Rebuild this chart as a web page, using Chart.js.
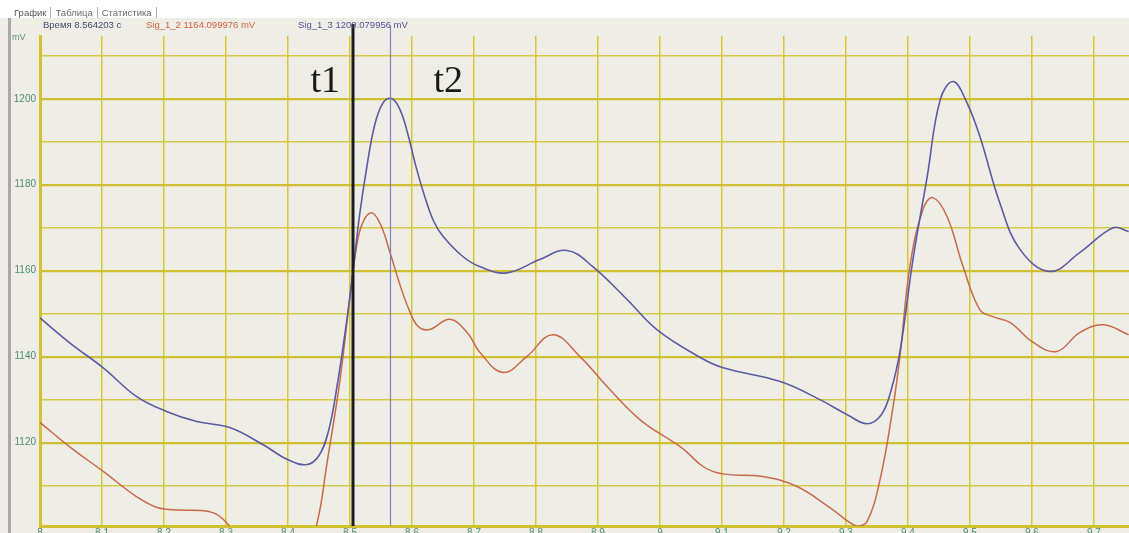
<!DOCTYPE html>
<html>
<head>
<meta charset="utf-8">
<script src="https://cdn.jsdelivr.net/npm/chart.js@4.4.1/dist/chart.umd.min.js"></script>
<style>
  html, body { margin:0; padding:0; width:1129px; height:533px; overflow:hidden; background:#ffffff; font-family:"Liberation Sans", Arial, sans-serif; }
  #panel { position:absolute; left:0; top:18px; width:1129px; height:515px; background:#efeee6; }
  #leftbar { position:absolute; left:8px; top:18px; width:3px; height:515px; background:#a9a9a9; }
  #tabs { position:absolute; left:10px; top:7px; height:11px; font-size:9.5px; color:#6a6a6a; white-space:nowrap; }
  #tabs span { display:inline-block; padding:0 4px; border-right:1px solid #b0b0b0; line-height:11px; }
  #tabs span.cur { color:#555; }
  #hdr { position:absolute; top:19px; left:0; font-size:9.5px; white-space:nowrap; }
  #hdr span { position:absolute; top:0; }
  #mv { position:absolute; left:12px; top:32px; font-size:9px; color:#5b8c72; }
  #wrap { position:absolute; left:0; top:0; width:1129px; height:546px; }
  .ov { z-index:3; }
</style>
</head>
<body>
<div id="panel"></div>
<div id="leftbar"></div>
<div id="tabs" class="ov"><span class="cur">График</span><span>Таблица</span><span>Статистика</span></div>
<div id="hdr" class="ov">
  <span style="left:43px;color:#3e4a6e;">Время 8.564203 с</span>
  <span style="left:146px;color:#d0603e;">Sig_1_2 1164.099976 mV</span>
  <span style="left:298px;color:#50509e;">Sig_1_3 1200.079956 mV</span>
</div>
<div id="mv" class="ov">mV</div>
<div id="wrap"><canvas id="c" width="1129" height="546"></canvas></div>
<script>
// ---- data (time in s, values in mV) ----
const blueTime = [8.000,8.050,8.102,8.156,8.205,8.253,8.306,8.360,8.400,8.431,8.450,8.465,8.479,8.495,8.505,8.516,8.527,8.540,8.553,8.566,8.579,8.592,8.605,8.620,8.635,8.650,8.682,8.710,8.753,8.806,8.850,8.892,8.947,8.995,9.065,9.102,9.194,9.258,9.302,9.334,9.357,9.373,9.388,9.408,9.431,9.452,9.473,9.495,9.516,9.548,9.581,9.629,9.677,9.731,9.756];
const blueMv   = [1149.0,1143.0,1137.4,1130.7,1127.2,1124.9,1123.5,1119.5,1116.0,1114.9,1117.0,1122.5,1133.0,1148.6,1160.2,1173.5,1184.0,1194.0,1199.0,1200.1,1198.0,1192.5,1185.0,1177.5,1171.5,1168.0,1163.3,1160.9,1159.5,1162.6,1164.7,1160.9,1153.3,1146.3,1139.8,1137.4,1134.2,1130.0,1126.5,1124.4,1126.5,1132.3,1142.0,1162.6,1181.9,1199.8,1204.0,1199.1,1191.2,1175.8,1164.9,1159.8,1164.2,1170.0,1169.1];

const redTime = [8.000,8.048,8.102,8.156,8.189,8.225,8.260,8.285,8.306,8.339,8.387,8.427,8.447,8.463,8.484,8.500,8.510,8.520,8.535,8.550,8.565,8.580,8.595,8.610,8.628,8.661,8.689,8.710,8.747,8.785,8.827,8.871,8.915,8.968,9.032,9.085,9.166,9.221,9.274,9.318,9.334,9.355,9.376,9.387,9.403,9.424,9.440,9.463,9.489,9.516,9.537,9.565,9.602,9.640,9.677,9.715,9.756];
const redMv   = [1124.7,1119.0,1113.3,1107.4,1104.9,1104.3,1104.2,1103.3,1100.5,1094.0,1090.0,1094.0,1101.4,1115.3,1134.7,1154.0,1165.0,1171.0,1173.5,1170.5,1164.0,1157.0,1151.0,1147.0,1146.3,1148.7,1145.6,1140.9,1136.3,1140.0,1145.1,1140.0,1133.0,1125.3,1119.1,1113.3,1112.1,1109.8,1104.9,1100.5,1101.6,1111.4,1128.4,1140.0,1160.9,1174.2,1177.0,1172.6,1160.9,1150.9,1149.3,1147.9,1143.3,1141.2,1145.6,1147.4,1145.1];

const xTickValues = [8.0,8.1,8.2,8.3,8.4,8.5,8.6,8.7,8.8,8.9,9.0,9.1,9.2,9.3,9.4,9.5,9.6,9.7];
const xTickLabels = ["8","8.1","8.2","8.3","8.4","8.5","8.6","8.7","8.8","8.9","9","9.1","9.2","9.3","9.4","9.5","9.6","9.7"];
const yGridValues = [1110,1120,1130,1140,1150,1160,1170,1180,1190,1200,1210];
const yTickLabels = ["1120","1140","1160","1180","1200"];

const markerTimes  = [8.505, 8.564];
const markerLabels = ["t1", "t2"];

const toPts = (t, v) => t.map((x, i) => ({ x: x, y: v[i] }));

const markerPlugin = {
  id: 'markers',
  afterDatasetsDraw(chart) {
    const { ctx, chartArea, scales } = chart;
    const x1 = Math.round(scales.x.getPixelForValue(markerTimes[0]));
    const x2 = Math.round(scales.x.getPixelForValue(markerTimes[1])) + 0.5;
    ctx.save();
    ctx.strokeStyle = '#8080c4';
    ctx.lineWidth = 1.2;
    ctx.beginPath(); ctx.moveTo(x2, chartArea.top - 10); ctx.lineTo(x2, chartArea.bottom); ctx.stroke();
    ctx.strokeStyle = '#1c1c1c';
    ctx.lineWidth = 3;
    ctx.beginPath(); ctx.moveTo(x1, chartArea.top - 12); ctx.lineTo(x1, chartArea.bottom); ctx.stroke();
    ctx.fillStyle = '#1a1a1a';
    ctx.font = '38px "Liberation Serif", "DejaVu Serif", serif';
    ctx.textBaseline = 'alphabetic';
    ctx.textAlign = 'right';
    ctx.fillText(markerLabels[0], x1 - 13, 92);
    ctx.textAlign = 'left';
    ctx.fillText(markerLabels[1], x2 + 43, 92);
    ctx.restore();
  }
};

new Chart(document.getElementById('c'), {
  type: 'line',
  data: {
    datasets: [
      { label: 'Sig_1_3', data: toPts(blueTime, blueMv), borderColor: '#5a5aa6', borderWidth: 1.6, pointRadius: 0, tension: 0.4, fill: false },
      { label: 'Sig_1_2', data: toPts(redTime, redMv), borderColor: '#c9694b', borderWidth: 1.5, pointRadius: 0, tension: 0.4, fill: false }
    ]
  },
  options: {
    responsive: false,
    animation: false,
    events: [],
    layout: { padding: { top: 36, left: 0, right: 0, bottom: 0 } },
    plugins: { legend: { display: false }, tooltip: { enabled: false }, title: { display: false } },
    scales: {
      x: {
        type: 'linear',
        min: 8.0,
        max: 9.7565,
        afterBuildTicks: (axis) => { axis.ticks = xTickValues.map(v => ({ value: v })); },
        afterFit: (axis) => { axis.height = 20; },
        ticks: {
          autoSkip: false, maxRotation: 0, padding: 1,
          color: '#4f8a74', font: { family: 'Liberation Sans', size: 10 },
          callback: (v) => { const i = xTickValues.findIndex(t => Math.abs(t - v) < 1e-6); return i >= 0 ? xTickLabels[i] : ''; }
        },
        grid: { color: '#d6c636', lineWidth: 1.5, drawTicks: false },
        border: { color: '#d2c230', width: 3 }
      },
      y: {
        min: 1100.6,
        max: 1214.6,
        afterBuildTicks: (axis) => { axis.ticks = yGridValues.map(v => ({ value: v })); },
        afterFit: (axis) => { axis.width = 40; },
        ticks: {
          autoSkip: false, padding: 4,
          color: '#4f8a74', font: { family: 'Liberation Sans', size: 10 },
          callback: (v) => yTickLabels.includes(String(v)) ? String(v) : ''
        },
        grid: {
          drawTicks: false,
          color: (c) => (c.tick && c.tick.value % 20 === 0) ? '#d0bf30' : '#d8c942',
          lineWidth: (c) => (c.tick && c.tick.value % 20 === 0) ? 2.2 : 1.5
        },
        border: { color: '#d2c230', width: 3 }
      }
    }
  },
  plugins: [markerPlugin]
});
</script>
</body>
</html>
